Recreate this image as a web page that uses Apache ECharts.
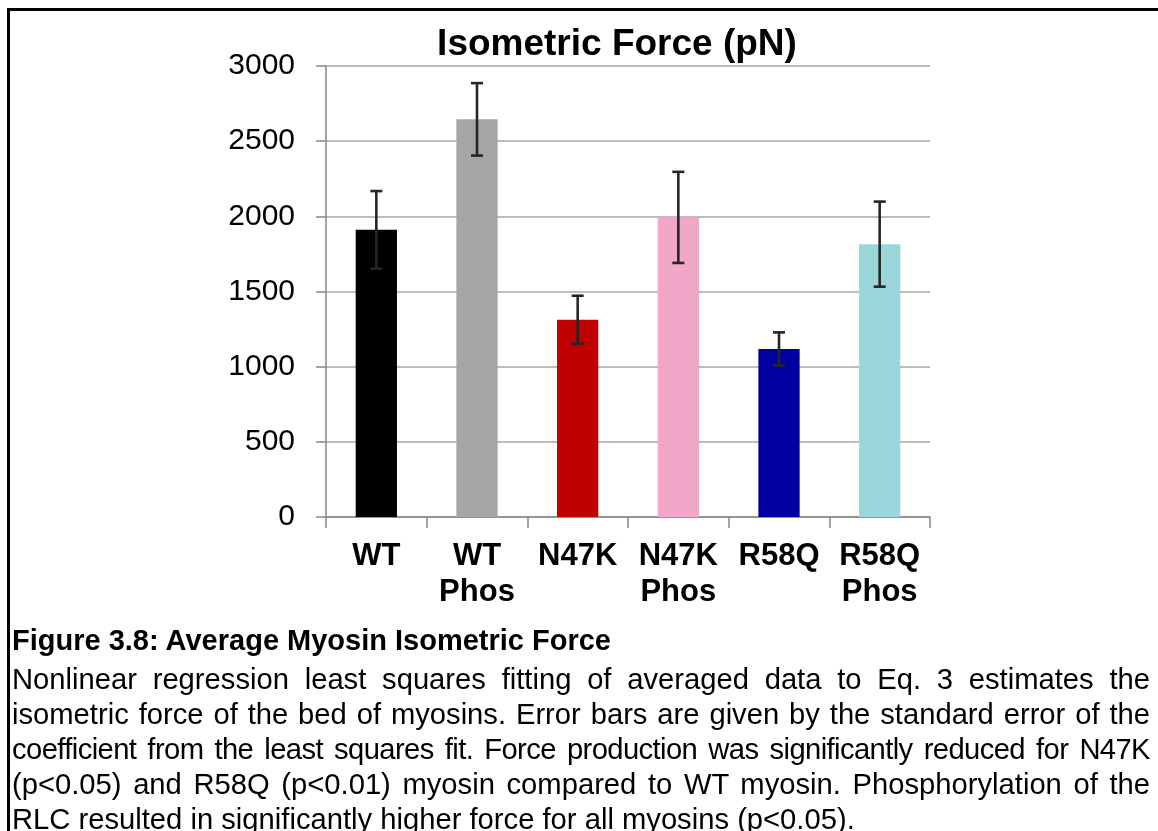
<!DOCTYPE html>
<html>
<head>
<meta charset="utf-8">
<title>Isometric Force (pN)</title>
<script src="https://cdn.jsdelivr.net/npm/echarts@6/dist/echarts.min.js"></script>
<style>
  html, body { margin: 0; padding: 0; background: #ffffff; }
  body { width: 1158px; height: 831px; position: relative; overflow: hidden; }
  #frame {
    position: absolute; left: 7px; top: 8px; width: 1200px; height: 900px;
    border: 3px solid #000000; box-sizing: border-box;
  }
  #chart { position: absolute; left: 0; top: 0; width: 1158px; height: 831px; }
  #caption {
    position: absolute; left: 12px; top: 623px; width: 1138px;
    font-family: "Liberation Sans", Arial, sans-serif; font-size: 29.2px;
    line-height: 35px; color: #000000;
  }
  #caption .head { font-weight: bold; font-size: 29px; margin-bottom: 4px; }
  #caption .ln { text-align: justify; text-align-last: justify; }
  #caption .tight { letter-spacing: -0.6px; }
  #caption .last { text-align: left; }
</style>
</head>
<body>
<div id="chart"></div>
<div id="frame"></div>
<div id="caption">
  <div class="head">Figure 3.8: Average Myosin Isometric Force</div>
  <div class="ln">Nonlinear regression least squares fitting of averaged data to Eq. 3 estimates the</div>
  <div class="ln">isometric force of the bed of myosins. Error bars are given by the standard error of the</div>
  <div class="ln tight">coefficient from the least squares fit. Force production was significantly reduced for N47K</div>
  <div class="ln">(p&lt;0.05) and R58Q (p&lt;0.01) myosin compared to WT myosin. Phosphorylation of the</div>
  <div class="last">RLC resulted in significantly higher force for all myosins (p&lt;0.05).</div>
</div>
<script>
// Myosin constructs and their fitted isometric force (pN) with standard errors
var categories = ['WT', 'WT\nPhos', 'N47K', 'N47K\nPhos', 'R58Q', 'R58Q\nPhos'];
var forceValues = [1910, 2645, 1312, 1993, 1118, 1815];
var forceErrors = [258, 241, 160, 303, 110, 283];
var barColors = ['#000000', '#a6a6a6', '#c00000', '#f2a7c9', '#00009f', '#9ad6da'];
var yTicks = { min: 0, max: 3000, interval: 500 };

var chart = echarts.init(document.getElementById('chart'), null, { renderer: 'canvas' });

var barData = forceValues.map(function (v, i) {
  return { value: v, itemStyle: { color: barColors[i] } };
});
var errData = forceValues.map(function (v, i) {
  return [i, v, forceErrors[i]];
});

// Vertical whisker with flat caps at value ± standard error
function renderErrorBar(params, api) {
  var idx = api.value(0);
  var val = api.value(1);
  var err = api.value(2);
  var hi = api.coord([idx, val + err]);
  var lo = api.coord([idx, val - err]);
  var half = 6;
  var style = { stroke: '#262626', lineWidth: 2.6 };
  return {
    type: 'group',
    children: [
      { type: 'line', shape: { x1: hi[0], y1: hi[1], x2: lo[0], y2: lo[1] }, style: style },
      { type: 'line', shape: { x1: hi[0] - half, y1: hi[1], x2: hi[0] + half, y2: hi[1] }, style: style },
      { type: 'line', shape: { x1: lo[0] - half, y1: lo[1], x2: lo[0] + half, y2: lo[1] }, style: style }
    ]
  };
}

var option = {
  animation: false,
  backgroundColor: '#ffffff',
  title: {
    text: 'Isometric Force (pN)',
    left: 617,
    textAlign: 'center',
    top: 26,
    padding: 0,
    textStyle: {
      fontFamily: '"Liberation Sans", Arial, sans-serif',
      fontSize: 37,
      fontWeight: 'bold',
      color: '#000000',
      lineHeight: 38
    }
  },
  grid: { left: 326, right: 228, top: 66, bottom: 314, containLabel: false },
  xAxis: {
    type: 'category',
    data: categories,
    axisLine: { show: true, lineStyle: { color: '#868686', width: 1.5 } },
    axisTick: { show: true, length: 11, lineStyle: { color: '#868686', width: 1.5 } },
    axisLabel: {
      interval: 0,
      margin: 21,
      fontFamily: '"Liberation Sans", Arial, sans-serif',
      fontSize: 31,
      fontWeight: 'bold',
      color: '#000000',
      lineHeight: 36
    },
    splitLine: { show: false }
  },
  yAxis: {
    type: 'value',
    min: yTicks.min,
    max: yTicks.max,
    interval: yTicks.interval,
    axisLine: { show: true, lineStyle: { color: '#868686', width: 1.5 } },
    axisTick: { show: true, length: 10, lineStyle: { color: '#868686', width: 1.5 } },
    axisLabel: {
      margin: 31,
      formatter: function (v) { return String(v); },
      fontFamily: '"Liberation Sans", Arial, sans-serif',
      fontSize: 30,
      color: '#000000'
    },
    splitLine: { show: true, lineStyle: { color: '#a6a6a6', width: 1.5 } }
  },
  series: [
    {
      type: 'bar',
      data: barData,
      barWidth: '41%'
    },
    {
      type: 'custom',
      renderItem: renderErrorBar,
      data: errData,
      z: 10
    }
  ]
};

chart.setOption(option);
</script>
</body>
</html>
